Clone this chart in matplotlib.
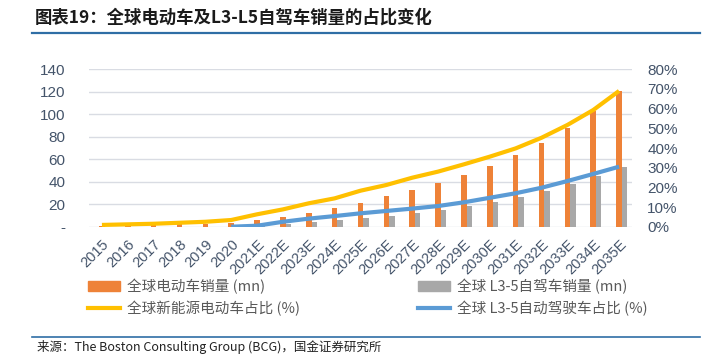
import matplotlib
matplotlib.use("Agg")
import matplotlib.pyplot as plt
import matplotlib.transforms as mtransforms
from matplotlib.patches import Patch
from matplotlib.lines import Line2D

plt.rcParams["font.family"] = ["Liberation Sans", "Noto Sans CJK SC", "DejaVu Sans"]
CJK = ["Noto Sans CJK SC", "DejaVu Sans"]

years = ["2015", "2016", "2017", "2018", "2019", "2020", "2021E", "2022E", "2023E", "2024E", "2025E",
         "2026E", "2027E", "2028E", "2029E", "2030E", "2031E", "2032E", "2033E", "2034E", "2035E"]
ev_sales = [0.5, 0.8, 1.2, 2.0, 2.1, 3.0, 6.0, 8.6, 12.2, 16.6, 21.0,
            27.3, 32.7, 38.9, 46.0, 54.0, 63.8, 74.5, 87.8, 103.0, 121.0]      # mn
av_sales = [0, 0, 0, 0, 0, 0, 0.3, 2.4, 4.2, 6.0, 7.7,
            9.5, 12.2, 14.8, 18.4, 22.0, 26.4, 31.6, 38.0, 45.0, 53.4]          # mn
ev_share = [0.9, 1.2, 1.5, 2.0, 2.5, 3.4, 6.3, 8.8, 11.9, 14.4, 18.3,
            21.2, 24.9, 28.0, 31.7, 35.6, 39.8, 45.2, 51.7, 59.3, 69.0]         # %
av_share = [None, None, None, None, None, 0.0, 0.5, 2.5, 4.1, 5.4, 6.8,
            8.0, 9.2, 10.5, 12.4, 14.7, 17.0, 19.8, 23.2, 26.8, 30.5]          # %

C = dict(orange="#EE8238", grey="#A8A8A8", yellow="#FFC000", blue="#5B9BD5",
         tick="#44546A", text="#595959", rule="#2F6EA5")

fig = plt.figure(figsize=(7.1, 3.57), dpi=100)
ax = fig.add_axes([89/710, 1 - 226.7/357, (632 - 89)/710, (226.7 - 69.3)/357])
x = list(range(len(years))); w = 0.21
ax.bar(x, ev_sales, w, color=C["orange"], zorder=2)
ax.bar([i + w for i in x], av_sales, w, color=C["grey"], zorder=2)
ax.set_xlim(-0.5, len(years) - 0.5); ax.set_ylim(0, 140)
ax.set_yticks(range(0, 141, 20))
ax.set_yticklabels(["-"] + [str(v) for v in range(20, 141, 20)])
ax.grid(axis="y", color="#D9DCE3", lw=1, zorder=0)
ax.set_xticks(x); ax.set_xticklabels(years)
shift = mtransforms.ScaledTranslation(-3/100, 0, fig.dpi_scale_trans)
for lab in ax.get_xticklabels():
    lab.set_rotation(45); lab.set_ha("right"); lab.set_rotation_mode("anchor")
    lab.set_transform(lab.get_transform() + shift)
ax.tick_params(axis="y", length=0, pad=17, labelsize=11, labelcolor=C["tick"])
ax.tick_params(axis="x", length=0, pad=7.5, labelsize=10.5, labelcolor=C["tick"])

ax2 = ax.twinx()
xs = [i for i, v in enumerate(av_share) if v is not None]
ax2.plot(x, ev_share, color=C["yellow"], lw=3, solid_capstyle="butt")
ax2.plot(xs, [av_share[i] for i in xs], color=C["blue"], lw=3, solid_capstyle="butt")
ax2.set_ylim(0, 80); ax2.set_yticks(range(0, 81, 10))
ax2.set_yticklabels([f"{v}%" for v in range(0, 81, 10)])
ax2.tick_params(axis="y", length=0, pad=11, labelsize=11, labelcolor=C["tick"])
for a in (ax, ax2):
    for s in a.spines.values(): s.set_visible(False)

# legend, two columns placed by hand
lk = dict(frameon=False, loc="upper left", handlelength=2.2, handleheight=0.65, handletextpad=0.45,
          labelspacing=0.45, borderpad=0, borderaxespad=0, prop={"family": CJK, "size": 10.5}, labelcolor=C["text"])
fig.legend([Patch(color=C["orange"]), Line2D([], [], color=C["yellow"], lw=3)],
           ["全球电动车销量 (mn)", "全球新能源电动车占比 (%)"], bbox_to_anchor=(88/710, 1 - 279/357), **lk)
fig.legend([Patch(color=C["grey"]), Line2D([], [], color=C["blue"], lw=3)],
           ["全球 L3-5自驾车销量 (mn)", "全球 L3-5自动驾驶车占比 (%)"], bbox_to_anchor=(418/710, 1 - 279/357), **lk)

fig.text(35/710, 1 - 18/357, "图表19：全球电动车及L3-L5自驾车销量的占比变化", family=CJK, fontsize=12.5,
         fontweight="bold", color="#1A1A1A", va="center", ha="left")
fig.add_artist(Line2D([32/710, 700/710], [1 - 32.5/357] * 2, color=C["rule"], lw=1.6))
fig.add_artist(Line2D([32/710, 700/710], [1 - 336.5/357] * 2, color=C["rule"], lw=1.2))
fig.text(37/710, 1 - 347.5/357, "来源：The Boston Consulting Group (BCG)，国金证券研究所", family=CJK,
         fontsize=9, color="#222222", va="center", ha="left")

fig.savefig("out.png", dpi=100)
